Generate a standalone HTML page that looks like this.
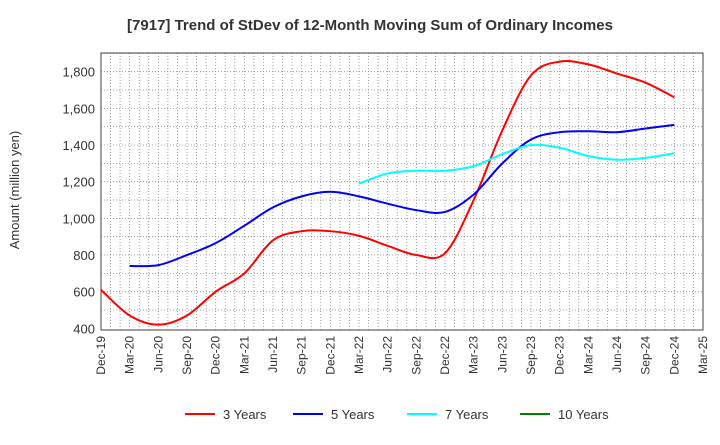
<!DOCTYPE html>
<html><head><meta charset="utf-8"><style>
body{margin:0;background:#fff;font-family:"Liberation Sans",Arial,sans-serif}
svg text{font-family:"Liberation Sans",Arial,sans-serif}
</style></head><body>
<svg id="chart" width="720" height="440" xmlns="http://www.w3.org/2000/svg">
<text x="370" y="30" text-anchor="middle" font-size="15" font-weight="bold" fill="#333">[7917]  Trend of StDev of 12-Month Moving Sum of Ordinary Incomes</text>
<text transform="translate(19,190) rotate(-90)" text-anchor="middle" font-size="13" fill="#333">Amount (million yen)</text>
<g id="grid"></g><g id="axes"></g><g id="series"></g><g id="legend"></g>
</svg>
<script>
const xLabels=["Dec-19","Mar-20","Jun-20","Sep-20","Dec-20","Mar-21","Jun-21","Sep-21","Dec-21","Mar-22","Jun-22","Sep-22","Dec-22","Mar-23","Jun-23","Sep-23","Dec-23","Mar-24","Jun-24","Sep-24","Dec-24","Mar-25"];
const yTicks=[400,600,800,1000,1200,1400,1600,1800];
const s3=[610,470,420,470,600,700,880,930,930,905,850,800,810,1100,1480,1780,1855,1840,1790,1740,1660];
const s5=[null,740,745,800,865,960,1060,1120,1145,1120,1080,1045,1035,1130,1300,1430,1470,1475,1470,1490,1510];
const s7=[null,null,null,null,null,null,null,null,null,1190,1245,1260,1260,1285,1350,1400,1385,1340,1320,1330,1355];
const s10=[];
const seriesNames=["3 Years","5 Years","7 Years","10 Years"];
const colors=["#ff0000","#0000ff","#00ffff","#008000"];
const L=101,R=703,T=53,B=330,yMin=391,yMax=1902;
const NS="http://www.w3.org/2000/svg";
const xs=i=>L+(R-L)*i/21;
const ys=v=>B-(v-yMin)/(yMax-yMin)*(B-T);
function mk(tag,attrs,parent){const e=document.createElementNS(NS,tag);for(const k in attrs)e.setAttribute(k,attrs[k]);parent.appendChild(e);return e;}
const grid=document.getElementById('grid'),axes=document.getElementById('axes'),ser=document.getElementById('series'),leg=document.getElementById('legend');
for(let m=1;m<63;m++){const x=L+(R-L)*m/63;const l=mk('line',{x1:x,x2:x,y1:T,y2:B,stroke:'#888','stroke-width':0.8,'stroke-dasharray':'1,2'},grid);

}
for(let v=500;v<=1900;v+=100){const y=ys(v);const l=mk('line',{x1:L,x2:R,y1:y,y2:y,stroke:'#888','stroke-width':0.8,'stroke-dasharray':'1,2'},grid);

}
const fr=mk('rect',{x:L,y:T,width:R-L,height:B-T,fill:'none',stroke:'#444','stroke-width':1},axes);


yTicks.forEach(v=>{const t=mk('text',{x:L-6,y:ys(v)+5,'text-anchor':'end','font-size':13,fill:'#333'},axes);t.textContent=v.toLocaleString('en-US');

});
xLabels.forEach((s,i)=>{const x=xs(i);const t=mk('text',{transform:`translate(${x+4},${B+6}) rotate(-90)`,'text-anchor':'end','font-size':12,fill:'#333'},axes);t.textContent=s;

});
function path(pts){let d=`M${pts[0][0]},${pts[0][1]}`;for(let i=0;i<pts.length-1;i++){const p0=pts[i-1]||pts[i],p1=pts[i],p2=pts[i+1],p3=pts[i+2]||p2;
d+=` C${p1[0]+(p2[0]-p0[0])/6},${p1[1]+(p2[1]-p0[1])/6} ${p2[0]-(p3[0]-p1[0])/6},${p2[1]-(p3[1]-p1[1])/6} ${p2[0]},${p2[1]}`;}return d;}
[s3,s5,s7,s10].forEach((s,k)=>{const pts=[];s.forEach((v,i)=>{if(v!=null)pts.push([xs(i),ys(v)]);});if(pts.length<2)return;
const p=mk('path',{d:path(pts),fill:'none',stroke:colors[k],'stroke-width':2},ser);

});
const lx=[185,293,407,520];
seriesNames.forEach((n,k)=>{const g=mk('g',{},leg);


mk('line',{x1:lx[k],x2:lx[k]+30,y1:414,y2:414,stroke:colors[k],'stroke-width':2},g);
const t=mk('text',{x:lx[k]+38,y:419,'font-size':13,fill:'#333'},g);t.textContent=n;});
</script>
</body></html>
